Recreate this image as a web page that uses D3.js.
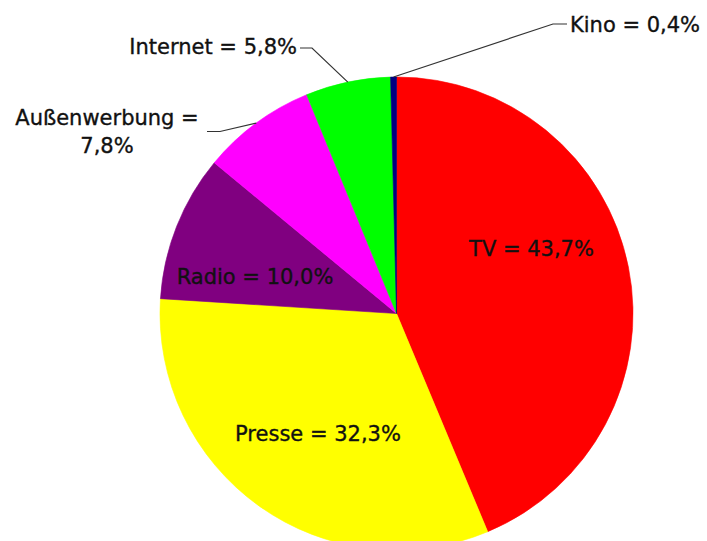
<!DOCTYPE html>
<html>
<head>
<meta charset="utf-8">
<script src="https://cdn.jsdelivr.net/npm/d3@7"></script>
<style>
  html, body { margin: 0; padding: 0; background: #fff; }
  svg { display: block; }
  text { font-family: "DejaVu Sans", sans-serif; font-size: 21px; fill: #111; stroke: #111; stroke-width: 0.35px; }
</style>
</head>
<body>
<svg id="chart" width="707" height="541"></svg>
<script>
// ---- data ----
const categories = ["TV", "Presse", "Radio", "Außenwerbung", "Internet", "Kino"];
const shares = [43.7, 32.3, 10.0, 7.8, 5.8, 0.4];
const shareLabels = ["43,7%", "32,3%", "10,0%", "7,8%", "5,8%", "0,4%"];
const colors = ["#ff0000", "#ffff00", "#800080", "#ff00ff", "#00ff00", "#000080"];

// ---- layout (label placement, relative to pie centre) ----
const cx = 396.5, cy = 313.5, R = 236.5;
const labelLayout = {
  "TV":           { inside: true,  x: 135,    y: -57.5, anchor: "middle" },
  "Presse":       { inside: true,  x: -78.5,  y: 127.5, anchor: "middle" },
  "Radio":        { inside: true,  x: -141.5, y: -29.5, anchor: "middle" },
  "Außenwerbung": { inside: false, x: -289.5, y: -188.5, anchor: "middle", twoLine: true,
                    elbow: [-176.5, -182], end: [-189.5, -182] },
  "Internet":     { inside: false, x: -99.5,  y: -259.5, anchor: "end",
                    elbow: [-84.5, -265.5], end: [-96.5, -265.5] },
  "Kino":         { inside: false, x: 173.5,  y: -281.5, anchor: "start",
                    elbow: [156.5, -289.5], end: [170.5, -289.5] }
};

const data = categories.map((c, i) => ({ name: c, value: shares[i], label: shareLabels[i], color: colors[i] }));

const svg = d3.select("#chart");
const g = svg.append("g").attr("transform", `translate(${cx},${cy})`);

const pie = d3.pie().value(d => d.value).sort(null);
const arc = d3.arc().innerRadius(0).outerRadius(R);
const edgeArc = d3.arc().innerRadius(R).outerRadius(R);
const arcs = pie(data);

g.selectAll("path.slice")
  .data(arcs)
  .join("path")
  .attr("class", "slice")
  .attr("d", arc)
  .attr("fill", d => d.data.color)
  .attr("stroke", d => d.data.color)
  .attr("stroke-width", 0.6);

// leader lines
const outside = arcs.filter(d => !labelLayout[d.data.name].inside);
g.selectAll("polyline.leader")
  .data(outside)
  .join("polyline")
  .attr("class", "leader")
  .attr("fill", "none")
  .attr("stroke", "#333")
  .attr("stroke-width", 1.2)
  .attr("points", d => {
    const L = labelLayout[d.data.name];
    const p = edgeArc.centroid(d);
    return [p, L.elbow, L.end].map(q => q.join(",")).join(" ");
  });

// labels
arcs.forEach(d => {
  const L = labelLayout[d.data.name];
  const t = g.append("text")
    .attr("x", L.x)
    .attr("y", L.y)
    .attr("text-anchor", L.anchor);
  if (L.twoLine) {
    t.append("tspan").attr("x", L.x).attr("dy", 0).text(d.data.name + " =");
    t.append("tspan").attr("x", L.x).attr("dy", 28).text(d.data.label);
  } else {
    t.text(d.data.name + " = " + d.data.label);
  }
});
</script>
</body>
</html>
